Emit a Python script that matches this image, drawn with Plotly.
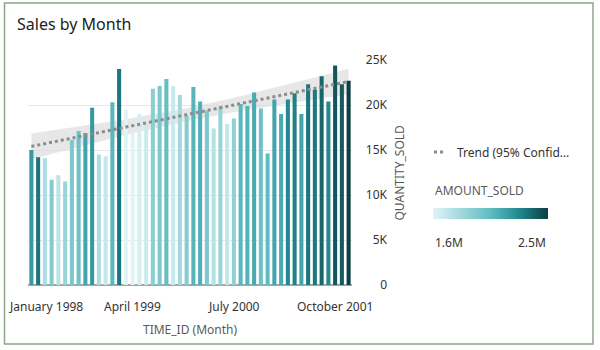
import numpy as np
import pandas as pd
import plotly.graph_objects as go

# ---------------- data ----------------
MONTHS = pd.date_range("1998-01-01", periods=48, freq="MS").strftime("%B %Y").tolist()

QUANTITY_SOLD = [15000, 14200, 14100, 11700, 12200, 11500, 16100, 17100, 16900, 19700, 14500, 14300,
                 20300, 24000, 19500, 16900, 19000, 17800, 21800, 22100, 22900, 22100, 21100, 18800,
                 22000, 20400, 19400, 17400, 19900, 17900, 18500, 20100, 19900, 21400, 19600, 14600,
                 20600, 19000, 20600, 21300, 19000, 22300, 21700, 23200, 20400, 24400, 22300, 22700]

AMOUNT_SOLD = [2.20e6, 2.33e6, 1.78e6, 1.92e6, 1.73e6, 1.85e6, 1.95e6, 2.00e6, 2.15e6, 2.20e6, 1.78e6, 1.70e6,
               2.07e6, 2.33e6, 1.60e6, 1.60e6, 1.64e6, 1.67e6, 1.90e6, 1.95e6, 2.03e6, 1.68e6, 1.82e6, 1.92e6,
               2.08e6, 2.10e6, 1.95e6, 1.75e6, 1.86e6, 1.70e6, 1.88e6, 2.07e6, 2.09e6, 2.13e6, 2.00e6, 2.05e6,
               2.15e6, 2.13e6, 2.27e6, 2.30e6, 2.15e6, 2.33e6, 2.32e6, 2.38e6, 2.27e6, 2.43e6, 2.42e6, 2.50e6]

X_TICK_LABELS = ["January 1998", "April 1999", "July 2000", "October 2001"]
Y_TICK_VALS = [0, 5000, 10000, 15000, 20000, 25000]
Y_TICK_TEXT = ["0", "5K", "10K", "15K", "20K", "25K"]
CMIN, CMAX = 1.6e6, 2.5e6

# ---------------- trend with 95% CI ----------------
q = np.array(QUANTITY_SOLD, dtype=float)
xi = np.arange(len(q))
slope, intercept = np.polyfit(xi, q, 1)
fit = intercept + slope * xi
resid = q - fit
s = np.sqrt(np.sum(resid ** 2) / (len(q) - 2))
se = s * np.sqrt(1 / len(q) + (xi - xi.mean()) ** 2 / np.sum((xi - xi.mean()) ** 2))
upper = fit + 2.013 * se
lower = fit - 2.013 * se

COLORSCALE = [[0.0, "#e0f4f6"], [0.5, "#5fbcc2"], [0.75, "#21888f"], [1.0, "#0b3f44"]]
FONT = "Noto Sans"

# layout geometry helpers (pixels -> paper)
L, R, T, B = 28, 190, 60, 65
PW = 600 - L - R
PH = 350 - T - B
def px(x):
    return (x - L) / PW
def py(y):
    return (350 - B - y) / PH

fig = go.Figure()

fig.add_trace(go.Scatter(
    x=MONTHS + MONTHS[::-1], y=list(upper) + list(lower[::-1]),
    fill="toself", fillcolor="rgba(215,215,215,0.6)", line=dict(width=0),
    hoverinfo="skip", showlegend=False, zorder=-1))

fig.add_trace(go.Bar(
    x=MONTHS, y=QUANTITY_SOLD,
    marker=dict(color=AMOUNT_SOLD, colorscale=COLORSCALE, cmin=CMIN, cmax=CMAX,
                line=dict(width=0),
                colorbar=dict(orientation="h", x=px(433), xanchor="left", y=py(208), yanchor="top",
                              lenmode="pixels", len=115, thickness=11, outlinewidth=0,
                              xpad=0, ypad=0, showticklabels=False, ticks="")),
    showlegend=False, zorder=0))

fig.add_trace(go.Scatter(
    x=MONTHS, y=fit, mode="lines",
    line=dict(color="#8c8c8c", width=3, dash="dot"),
    showlegend=False, zorder=1))

annotations = []
for lab in X_TICK_LABELS:
    annotations.append(dict(
        x=lab, y=0, xref="x", yref="paper", text=lab, showarrow=False,
        xanchor="center", yanchor="middle", yshift=-21,
        xshift=15 if lab == X_TICK_LABELS[0] else 0,
        font=dict(family=FONT, size=12, color="#333333")))
annotations += [
    dict(x=0.8482 / 2, y=0, xref="paper", yref="paper", text="TIME_ID (Month)", showarrow=False,
         xanchor="center", yanchor="middle", yshift=-44, font=dict(family=FONT, size=12, color="#5a5a5a")),
    dict(x=px(399), y=0.5, xref="paper", yref="paper", text="QUANTITY_SOLD", showarrow=False,
         xanchor="center", yanchor="middle",
         textangle=-90, font=dict(family=FONT, size=12, color="#5a5a5a")),
    dict(x=px(455), y=py(152), xref="paper", yref="paper", text="Trend (95% Confid…", showarrow=False,
         xanchor="left", yanchor="middle", font=dict(family=FONT, size=12, color="#333333")),
    dict(x=px(433), y=py(190), xref="paper", yref="paper", text="AMOUNT_SOLD", showarrow=False,
         xanchor="left", yanchor="middle", font=dict(family=FONT, size=12, color="#5a5a5a")),
    dict(x=px(433), y=py(242), xref="paper", yref="paper", text=f"{CMIN/1e6:.1f}M", showarrow=False,
         xanchor="left", yanchor="middle", font=dict(family=FONT, size=12, color="#333333")),
    dict(x=px(548), y=py(242), xref="paper", yref="paper", text=f"{CMAX/1e6:.1f}M", showarrow=False,
         xanchor="right", yanchor="middle", font=dict(family=FONT, size=12, color="#333333")),
]

shapes = [
    dict(type="line", xref="paper", yref="paper", x0=px(434), x1=px(445), y0=py(152), y1=py(152),
         line=dict(color="#8c8c8c", width=3, dash="dot")),
    dict(type="rect", xref="paper", yref="paper", x0=px(4.5), x1=px(593), y0=py(344), y1=py(3),
         line=dict(color="#8fa58a", width=1.5)),
]

fig.update_layout(
    width=600, height=350,
    margin=dict(l=L, r=R, t=T, b=B),
    paper_bgcolor="white", plot_bgcolor="white",
    font=dict(family=FONT, size=12, color="#333333"),
    title=dict(text="Sales by Month", x=17 / 600, xref="container", xanchor="left",
               y=1 - 24 / 350, yref="container", yanchor="middle",
               font=dict(family=FONT, size=16, color="#222222")),
    bargap=0.4,
    showlegend=False,
    xaxis=dict(type="category", domain=[0, 324 / PW], range=[-0.5, 47.5], showgrid=False,
               showticklabels=False, ticks="", showline=False, zeroline=False),
    yaxis=dict(range=[0, 25000], anchor="free", position=px(387), side="left",
               tickvals=Y_TICK_VALS, ticktext=Y_TICK_TEXT, ticks="",
               gridcolor="#e8e8e8", gridwidth=1, zeroline=True, zerolinecolor="#a6a6a6",
               zerolinewidth=2, showline=False,
               tickfont=dict(family=FONT, size=12, color="#333333")),
    annotations=annotations,
    shapes=shapes,
)

fig.write_html("out.html")
